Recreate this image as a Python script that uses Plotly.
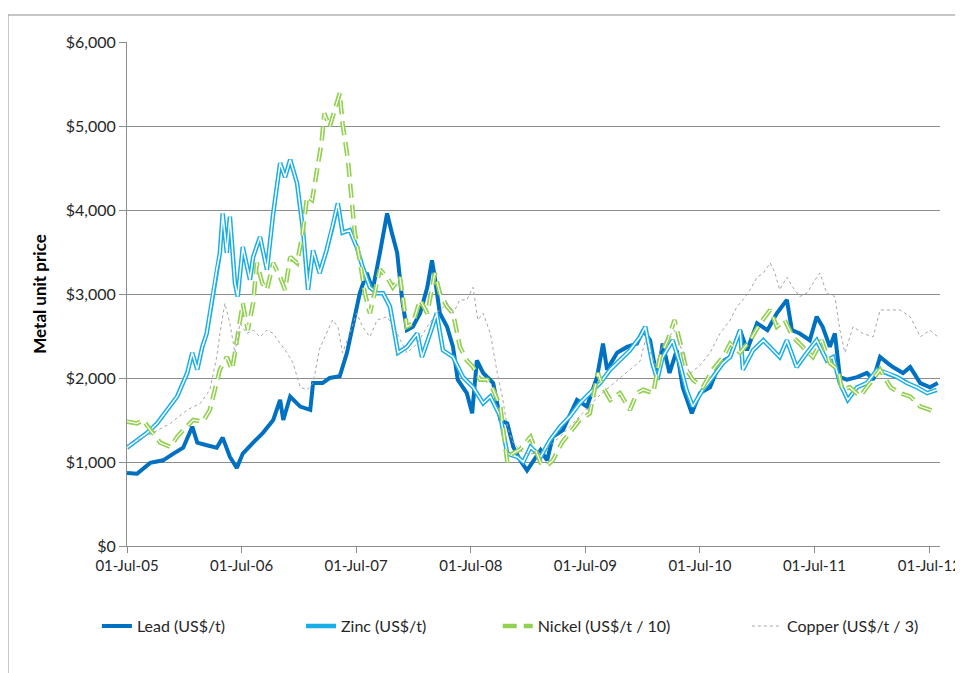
import pandas as pd
import plotly.graph_objects as go

lead_dates = ["2005-07-01","2005-08-02","2005-09-13","2005-10-24","2005-11-26","2005-12-27","2006-01-25","2006-02-10","2006-03-12","2006-04-13","2006-05-02","2006-05-25","2006-06-16","2006-07-05","2006-08-07","2006-09-08","2006-10-10","2006-11-01","2006-11-11","2006-12-03","2007-01-04","2007-02-05","2007-02-14","2007-03-16","2007-04-08","2007-05-10","2007-06-02","2007-06-20","2007-07-13","2007-08-04","2007-08-23","2007-09-15","2007-10-08","2007-10-23","2007-11-09","2007-11-25","2007-12-10","2007-12-29","2008-01-21","2008-02-13","2008-02-28","2008-03-08","2008-03-24","2008-04-16","2008-05-05","2008-05-20","2008-06-18","2008-07-05","2008-07-20","2008-08-09","2008-09-10","2008-10-03","2008-10-25","2008-11-13","2008-12-05","2008-12-27","2009-02-08","2009-03-01","2009-03-19","2009-04-20","2009-06-04","2009-07-06","2009-08-07","2009-08-26","2009-09-08","2009-10-10","2009-11-11","2009-12-12","2010-01-01","2010-01-23","2010-02-15","2010-03-04","2010-03-26","2010-04-18","2010-05-07","2010-06-05","2010-07-01","2010-08-02","2010-09-03","2010-10-05","2010-11-06","2010-11-28","2010-12-30","2011-02-01","2011-03-03","2011-04-04","2011-04-20","2011-05-15","2011-06-16","2011-07-08","2011-07-27","2011-08-19","2011-09-04","2011-09-20","2011-10-12","2011-11-14","2011-12-15","2012-01-04","2012-01-26","2012-02-18","2012-03-07","2012-04-08","2012-05-01","2012-06-02","2012-07-03","2012-07-28"]
lead_values = [870,860,990,1020,1100,1170,1420,1230,1200,1170,1290,1060,930,1100,1230,1350,1500,1740,1500,1780,1660,1620,1940,1940,2000,2020,2300,2610,3010,3250,3050,3490,3960,3730,3490,2930,2570,2610,2770,3080,3400,3200,2770,2610,2370,1980,1820,1580,2210,2060,1940,1500,1460,1180,1020,900,1140,1020,1300,1380,1740,1660,2010,2410,2100,2300,2370,2410,2570,2450,1980,2410,2060,2330,1890,1580,1820,1890,2180,2250,2570,2330,2650,2570,2770,2930,2570,2530,2450,2730,2610,2370,2530,2010,1980,2010,2060,1980,2250,2180,2130,2060,2130,1940,1890,1940]

zinc_dates = ["2005-07-01","2005-08-02","2005-09-04","2005-10-05","2005-11-07","2005-12-08","2006-01-09","2006-01-25","2006-02-10","2006-02-26","2006-03-12","2006-03-28","2006-04-13","2006-04-23","2006-05-02","2006-05-15","2006-05-25","2006-06-10","2006-06-19","2006-07-05","2006-07-28","2006-08-07","2006-08-29","2006-09-20","2006-10-10","2006-11-01","2006-11-17","2006-12-03","2006-12-25","2007-01-13","2007-01-29","2007-02-14","2007-03-07","2007-03-29","2007-04-17","2007-05-04","2007-05-19","2007-06-11","2007-07-03","2007-07-22","2007-08-14","2007-09-06","2007-09-25","2007-10-17","2007-11-12","2007-12-10","2008-01-12","2008-01-27","2008-02-22","2008-03-14","2008-04-03","2008-05-05","2008-06-06","2008-07-08","2008-08-09","2008-09-01","2008-10-03","2008-10-25","2008-11-26","2008-12-15","2009-01-07","2009-02-08","2009-03-10","2009-04-11","2009-05-12","2009-06-13","2009-07-15","2009-08-17","2009-09-18","2009-10-19","2009-11-20","2009-12-22","2010-01-08","2010-01-30","2010-02-15","2010-03-04","2010-04-05","2010-04-27","2010-05-19","2010-06-08","2010-07-10","2010-08-11","2010-09-13","2010-10-05","2010-11-06","2010-11-15","2010-12-17","2011-01-19","2011-02-19","2011-03-12","2011-04-04","2011-05-05","2011-06-07","2011-07-08","2011-08-09","2011-08-29","2011-09-20","2011-10-15","2011-11-14","2011-12-15","2012-01-17","2012-02-18","2012-03-20","2012-04-21","2012-05-22","2012-06-24","2012-07-25"]
zinc_values = [1170,1260,1350,1460,1620,1780,2060,2300,2100,2370,2530,2930,3290,3490,3960,3490,3920,3130,2970,3560,3170,3440,3680,3290,3960,4560,4390,4600,4320,3760,3050,3520,3250,3520,3800,4080,3730,3760,3560,3320,3080,3010,3010,2850,2300,2370,2530,2250,2530,2770,2330,2250,2010,1890,1700,1780,1540,1100,1060,1000,1180,1060,1260,1420,1540,1700,1820,1940,2100,2210,2330,2490,2610,2180,1980,2250,2450,2180,1860,1660,1860,2010,2180,2250,2570,2100,2330,2450,2330,2250,2450,2130,2300,2450,2210,2250,1940,1740,1890,1940,2100,2060,2010,1940,1890,1820,1860]

nickel_dates = ["2005-07-01","2005-08-02","2005-08-21","2005-09-13","2005-10-15","2005-11-16","2005-12-08","2005-12-27","2006-01-28","2006-02-28","2006-03-22","2006-04-07","2006-04-23","2006-05-15","2006-06-01","2006-06-10","2006-06-26","2006-07-05","2006-07-21","2006-08-07","2006-08-19","2006-09-05","2006-09-20","2006-10-10","2006-11-01","2006-11-17","2006-12-03","2006-12-25","2007-01-10","2007-01-26","2007-02-11","2007-02-26","2007-03-13","2007-03-22","2007-04-08","2007-04-24","2007-05-10","2007-05-19","2007-06-05","2007-06-17","2007-06-27","2007-07-13","2007-07-29","2007-08-14","2007-08-30","2007-09-15","2007-10-08","2007-10-26","2007-11-18","2007-12-10","2007-12-29","2008-01-21","2008-02-13","2008-03-08","2008-03-24","2008-04-16","2008-05-05","2008-05-27","2008-06-18","2008-07-08","2008-07-30","2008-08-22","2008-09-10","2008-10-03","2008-10-18","2008-10-25","2008-11-10","2008-12-05","2009-01-07","2009-02-08","2009-03-01","2009-03-19","2009-04-17","2009-05-12","2009-06-13","2009-07-15","2009-08-10","2009-08-26","2009-09-18","2009-10-19","2009-11-20","2009-12-12","2010-01-01","2010-02-02","2010-02-24","2010-03-20","2010-04-11","2010-04-27","2010-05-19","2010-06-08","2010-07-10","2010-08-11","2010-09-13","2010-10-05","2010-11-06","2010-12-08","2011-01-09","2011-02-10","2011-03-03","2011-03-28","2011-04-23","2011-05-25","2011-06-26","2011-07-24","2011-08-19","2011-09-14","2011-09-27","2011-10-22","2011-11-23","2011-12-25","2012-01-26","2012-02-28","2012-03-29","2012-05-01","2012-06-02","2012-07-03","2012-07-28"]
nickel_values = [1480,1460,1500,1380,1230,1180,1300,1380,1500,1480,1620,1860,2100,2250,2100,2300,2650,2890,2570,2890,3370,3130,3050,3370,3200,3050,3440,3370,3680,4160,4120,4480,4800,5150,4990,5190,5390,5030,4600,4120,3730,3400,3010,2770,3010,3290,3200,3080,3200,2610,2650,2930,2770,3250,3010,2850,2770,2370,2210,2130,1980,1980,1860,1660,1200,1000,1100,1150,1300,990,960,1020,1230,1350,1500,1580,2060,1890,1740,1820,1620,1820,1860,1820,2250,2450,2690,2450,2100,1980,1890,2100,2250,2410,2300,2450,2650,2810,2610,2690,2490,2370,2250,2450,2180,2100,1860,1890,1780,1940,2100,1890,1820,1780,1660,1620,1580]

copper_dates = ["2005-07-01","2005-09-23","2005-11-16","2006-01-09","2006-02-20","2006-03-22","2006-04-13","2006-04-23","2006-05-09","2006-05-25","2006-06-10","2006-06-26","2006-07-18","2006-08-07","2006-08-29","2006-09-20","2006-10-10","2006-11-01","2006-11-23","2006-12-12","2007-01-04","2007-01-26","2007-02-14","2007-03-07","2007-03-29","2007-04-17","2007-05-04","2007-05-19","2007-06-11","2007-07-03","2007-07-22","2007-08-14","2007-09-06","2007-10-08","2007-11-09","2007-12-10","2008-01-12","2008-02-13","2008-03-14","2008-04-16","2008-05-05","2008-05-27","2008-06-18","2008-07-08","2008-07-23","2008-08-09","2008-09-01","2008-09-23","2008-10-09","2008-10-25","2008-11-13","2008-12-05","2008-12-27","2009-02-08","2009-04-11","2009-06-13","2009-08-17","2009-10-19","2009-12-22","2010-01-08","2010-02-10","2010-03-04","2010-04-11","2010-05-07","2010-05-29","2010-07-01","2010-08-02","2010-09-03","2010-10-05","2010-10-27","2010-11-15","2010-12-08","2010-12-30","2011-01-19","2011-02-10","2011-02-25","2011-03-12","2011-04-04","2011-04-23","2011-05-15","2011-06-07","2011-06-26","2011-07-18","2011-08-09","2011-09-04","2011-09-20","2011-10-06","2011-11-01","2011-12-03","2012-01-04","2012-01-26","2012-02-28","2012-03-29","2012-05-01","2012-06-02","2012-07-03","2012-07-28"]
copper_values = [1200,1350,1460,1620,1700,1860,2250,2530,2890,2650,2300,2650,2530,2570,2490,2570,2530,2410,2300,2180,1890,1860,1940,2350,2530,2690,2610,2300,2530,2770,2610,2490,2690,2730,2530,2300,2410,2610,2770,2890,2770,2930,2930,3080,2690,2770,2530,2060,1780,1420,1230,1140,1100,1100,1300,1550,1800,2000,2200,2450,2150,2400,2570,2300,2050,2150,2300,2530,2690,2850,2930,3050,3200,3250,3370,3250,3050,3200,3080,2970,3010,3130,3250,3010,2970,2570,2300,2610,2530,2490,2810,2810,2810,2730,2490,2570,2490]

series_names = ["Lead (US$/t)", "Zinc (US$/t)", "Nickel (US$/t / 10)", "Copper (US$/t / 3)"]
x_range = ["2005-07-01", "2012-08-04"]

LEAD = "#0070C0"
ZINC = "#1AAEE8"
NICKEL = "#92D050"
COPPER = "#A6A6A6"
GRID = "#8C8C8C"
TXT = "#262626"
FONT = "Lato, 'Open Sans', sans-serif"

def d(lst):
    return pd.to_datetime(lst)

fig = go.Figure()

fig.add_trace(go.Scatter(x=d(lead_dates), y=lead_values, name=series_names[0], mode="lines",
                         legend="legend", line=dict(color=LEAD, width=4)))
fig.add_trace(go.Scatter(x=d(zinc_dates), y=zinc_values, name=series_names[1], mode="lines",
                         legend="legend2", line=dict(color=ZINC, width=4.5)))
fig.add_trace(go.Scatter(x=d(zinc_dates), y=zinc_values, showlegend=False, mode="lines", hoverinfo="skip",
                         line=dict(color="white", width=1.5)))
fig.add_trace(go.Scatter(x=d(nickel_dates), y=nickel_values, name=series_names[2], mode="lines",
                         legend="legend3", line=dict(color=NICKEL, width=4.5, dash="14px,7px")))
fig.add_trace(go.Scatter(x=d(nickel_dates), y=nickel_values, showlegend=False, mode="lines", hoverinfo="skip",
                         line=dict(color="white", width=1.2, dash="14px,7px")))
fig.add_trace(go.Scatter(x=d(copper_dates), y=copper_values, name=series_names[3], mode="lines",
                         legend="legend4", line=dict(color=COPPER, width=1, dash="dot")))

def leg(x):
    return dict(orientation="h", x=x, y=-0.159, xanchor="left", yanchor="middle",
                font=dict(family=FONT, size=16, color=TXT), bgcolor="rgba(0,0,0,0)")

fig.update_layout(
    width=955, height=665,
    margin=dict(l=119, r=23, t=34, b=127, autoexpand=False),
    paper_bgcolor="white", plot_bgcolor="white",
    font=dict(family=FONT, size=15, color=TXT),
    showlegend=True,
    legend=leg(-0.037),
    legend2=leg(0.214),
    legend3=leg(0.456),
    legend4=leg(0.7625),
    shapes=[dict(type="rect", xref="paper", yref="paper", x0=-0.1464, x1=1.3, y0=-0.6, y1=1.0536,
                 line=dict(color="#8C8C8C", width=1), fillcolor="rgba(0,0,0,0)", layer="below")],
)

fig.update_xaxes(
    type="date", range=x_range, tick0="2005-07-01", dtick="M12", tickformat="%d-%b-%y",
    showgrid=False, showline=True, linecolor=GRID, linewidth=1,
    ticks="outside", ticklen=6, tickcolor=GRID, automargin=False,
    tickfont=dict(family=FONT, size=15, color=TXT),
)
fig.update_yaxes(
    range=[0, 6000], dtick=1000, tickformat="$,.0f",
    showgrid=True, gridcolor=GRID, gridwidth=1,
    showline=True, linecolor=GRID, linewidth=1,
    ticks="outside", ticklen=7, tickcolor=GRID, automargin=False,
    tickfont=dict(family=FONT, size=16, color=TXT),
    title=dict(text="<b>Metal unit price</b>", font=dict(family=FONT, size=17, color="#000000"), standoff=14),
    zeroline=False,
)

fig.write_html("out.html")
